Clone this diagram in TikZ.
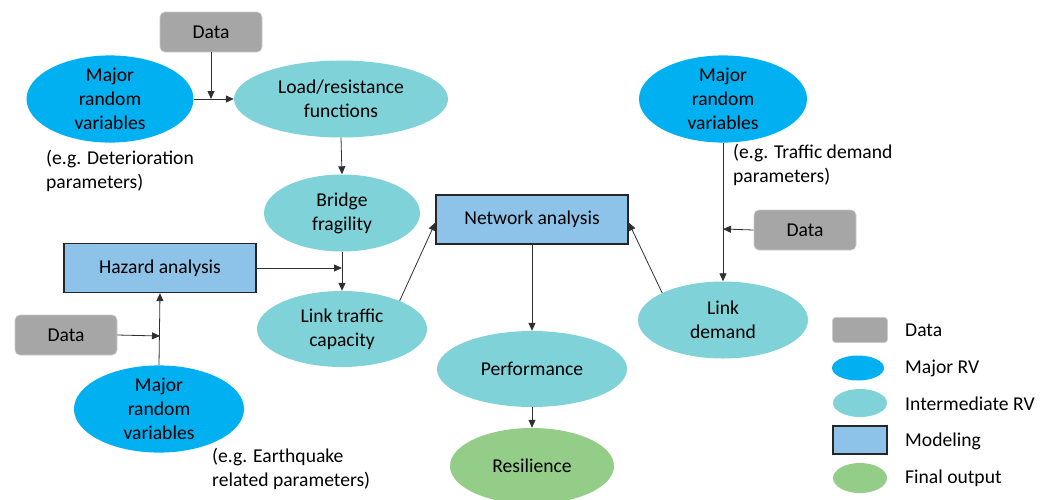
\documentclass[tikz,border=0pt]{standalone}
\usepackage{fontspec}
\setmainfont{Carlito}
\usetikzlibrary{shapes.geometric,arrows.meta,calc}
\definecolor{dataGray}{HTML}{A6A6A6}
\definecolor{majorBlue}{HTML}{00B0F0}
\definecolor{interTeal}{HTML}{7FD2D7}
\definecolor{modelBlue}{HTML}{8DC3E8}
\definecolor{finalGreen}{HTML}{94CD88}
\definecolor{lineGray}{HTML}{303030}
\begin{document}
\begin{tikzpicture}[x=1pt,y=-1pt,
  font=\fontsize{19.6}{24}\selectfont,
  datab/.style={fill=dataGray, draw=dataGray!60, line width=0.6pt, rounded corners=5pt, minimum width=102pt, minimum height=40pt, inner sep=0pt},
  majorrv/.style={ellipse, fill=majorBlue, inner sep=0pt, align=center},
  inter/.style={ellipse, fill=interTeal, inner sep=0pt, align=center},
  model/.style={draw=black!85, line width=1.3pt, fill=modelBlue, inner sep=0pt},
  final/.style={ellipse, fill=finalGreen, inner sep=0pt, align=center},
  arr/.style={-{Triangle[length=8pt,width=7pt]}, draw=lineGray, line width=0.8pt},
  note/.style={anchor=west, align=left, inner sep=0pt},
  legtxt/.style={anchor=west, inner sep=0pt}]
\useasboundingbox (0,0) rectangle (1052,499);

% Top-left group
\node[datab] (d1) at (211,32) {Data};
\node[majorrv, minimum width=167pt, minimum height=86pt] (m1) at (110,99) {Major\\random\\variables};
\node[inter, minimum width=214pt, minimum height=77pt] (lr) at (341,99) {Load/resistance\\functions};
\node[note] (n1) at (46,171) {(e.g. Deterioration\\parameters)};
\node[inter, minimum width=156pt, minimum height=77pt] (bf) at (342,213) {Bridge\\fragility};

% Hazard group
\node[model, minimum width=192pt, minimum height=49pt] (ha) at (160,268) {Hazard analysis};
\node[datab] (d2) at (66,335) {Data};
\node[majorrv, minimum width=170pt, minimum height=80pt] (m2) at (159,409) {Major\\random\\variables};
\node[note] (n2) at (212,469) {(e.g. Earthquake\\related parameters)};
\node[inter, minimum width=170pt, minimum height=76pt] (lt) at (342,329) {Link traffic\\capacity};

% Center
\node[model, minimum width=192pt, minimum height=49pt] (na) at (532,219.5) {Network analysis};
\node[inter, minimum width=190pt, minimum height=76pt] (pf) at (532,369) {Performance};
\node[final, minimum width=164pt, minimum height=76pt] (rs) at (532,466) {Resilience};

% Right group
\node[majorrv, minimum width=168pt, minimum height=84pt] (m3) at (723,99) {Major\\random\\variables};
\node[note] (n3) at (733,165) {(e.g. Traffic demand\\parameters)};
\node[datab] (d3) at (805,230) {Data};
\node[inter, minimum width=170pt, minimum height=77pt] (ld) at (723,320) {Link\\demand};

% junction coordinates
\coordinate (j1) at (211,99);
\coordinate (j2) at (342,268);
\coordinate (j3) at (160,336);
\coordinate (j4) at (723,229);

% connectors
\draw[arr] (m1.east) -- (lr.west);
\draw[arr] (d1.south) -- (j1);
\draw[arr] (lr.south) -- (bf.north);
\draw[arr] (bf.south) -- (lt.north);
\draw[arr] (ha.east) -- (j2);
\draw[arr] (m2.north) -- (ha.south);
\draw[arr] (d2.east) -- (j3);
\draw[arr] (lt.26) -- ([yshift=-3pt]na.west);
\draw[arr] (na.south) -- (pf.north);
\draw[arr] (pf.south) -- (rs.north);
\draw[arr] (m3.south) -- (ld.north);
\draw[arr] (d3.west) -- (j4);
\draw[arr] (ld.156) -- ([yshift=-3pt]na.east);

% Legend
\node[fill=dataGray, draw=dataGray!60, line width=0.6pt, rounded corners=3pt, minimum width=55pt, minimum height=25pt, inner sep=0pt] (lg1) at (860,330) {};
\node[ellipse, fill=majorBlue, minimum width=52pt, minimum height=25pt, inner sep=0pt] (lg2) at (858,368) {};
\node[ellipse, fill=interTeal, minimum width=54pt, minimum height=28pt, inner sep=0pt] (lg3) at (860,403) {};
\node[draw=black!85, line width=1.2pt, fill=modelBlue, minimum width=54pt, minimum height=28pt, inner sep=0pt] (lg4) at (860,440) {};
\node[ellipse, fill=finalGreen, minimum width=54pt, minimum height=30pt, inner sep=0pt] (lg5) at (860,478) {};
\node[legtxt] (lt1) at (905,330) {Data};
\node[legtxt] (lt2) at (905,368) {Major RV};
\node[legtxt] (lt3) at (905,404) {Intermediate RV};
\node[legtxt] (lt4) at (905,441) {Modeling};
\node[legtxt] (lt5) at (905,478) {Final output};
\end{tikzpicture}
\end{document}
